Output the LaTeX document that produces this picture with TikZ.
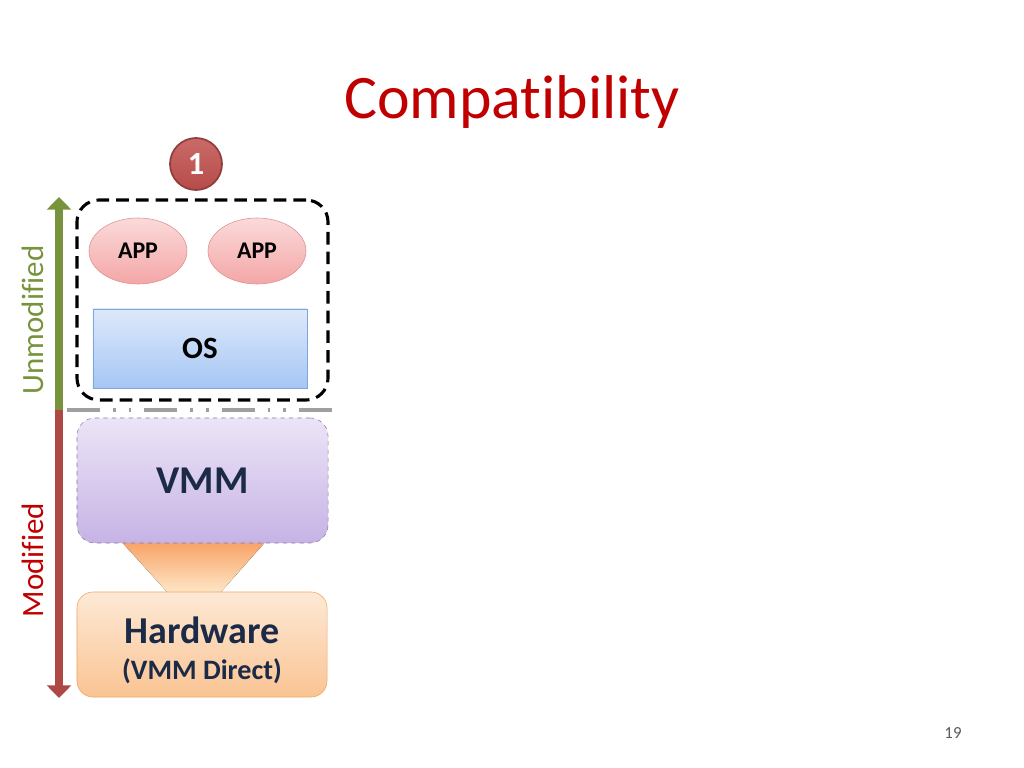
\documentclass[tikz,border=0pt]{standalone}
\usepackage{fontspec}
\setmainfont[RawFeature=-liga]{Carlito}
\usetikzlibrary{shapes}
\usetikzlibrary{positioning}
\usetikzlibrary{arrows.meta}
\definecolor{titlered}{HTML}{C00000}
\definecolor{navy}{HTML}{1B2A47}
\definecolor{leafgreen}{HTML}{77933C}
\definecolor{brick}{HTML}{C0504D}
\definecolor{apptop}{HTML}{FBDADA}
\definecolor{appbot}{HTML}{F4A6A6}
\definecolor{appline}{HTML}{DE9090}
\definecolor{ostop}{HTML}{DDE9FB}
\definecolor{osbot}{HTML}{A6C6F4}
\definecolor{osline}{HTML}{7EA6DB}
\definecolor{vmmtop}{HTML}{ECE4F7}
\definecolor{vmmbot}{HTML}{C6B3E5}
\definecolor{vmmline}{HTML}{8A78A8}
\definecolor{hwtop}{HTML}{FDE9D6}
\definecolor{hwbot}{HTML}{FAC493}
\definecolor{hwline}{HTML}{F3A560}
\definecolor{funtop}{HTML}{F8A062}
\definecolor{funbot}{HTML}{FDE7C8}
\tikzset{
    titletext/.style = {text=titlered,font=\fontsize{44}{50}\selectfont},
    stepnum/.style = {circle, line width=1.2pt, draw=brick!75!black, top color=brick!85, bottom color=brick!95!black, minimum size=1.3cm, inner sep=0pt, text=white, font=\fontsize{23}{26}\selectfont\bfseries},
    groupbox/.style = {rectangle, rounded corners=0.55cm, draw=black, line width=2.2pt, dash pattern=on 9pt off 5pt, minimum width=6.275cm, minimum height=5cm},
    appnode/.style = {ellipse, draw=appline, thin, top color=apptop, bottom color=appbot, minimum width=2.45cm, minimum height=1.65cm, inner sep=0pt, font=\fontsize{17}{20}\selectfont\bfseries},
    osbox/.style = {rectangle, draw=osline, thin, top color=ostop, bottom color=osbot, minimum width=5.35cm, minimum height=1.975cm, font=\fontsize{22}{26}\selectfont\bfseries},
    vmmbox/.style = {rectangle, rounded corners=0.45cm, draw=vmmline, thin, dashed, top color=vmmtop, bottom color=vmmbot, minimum width=6.275cm, minimum height=3.125cm, text=navy, font=\fontsize{28}{32}\selectfont\bfseries},
    hwbox/.style = {rectangle, rounded corners=0.4cm, draw=hwline, thin, top color=hwtop, bottom color=hwbot, minimum width=6.25cm, minimum height=2.625cm, text=navy, align=center, font=\fontsize{27}{30}\selectfont\bfseries},
    funnel/.style = {top color=funtop, bottom color=funbot},
    splitline/.style = {draw=gray!75, line width=2.6pt, dash pattern=on 23.4pt off 9.2pt on 2pt off 9.2pt on 2pt off 9.2pt},
    edgeup/.style = {-{Triangle[length=9pt,width=17pt]}, line width=5pt, leafgreen},
    edgedown/.style = {-{Triangle[length=9pt,width=17pt]}, line width=5pt, brick!90!black},
    sidetext/.style = {rotate=90, font=\fontsize{22}{26}\selectfont},
    pagenum/.style = {text=gray!70!black, font=\fontsize{12}{14}\selectfont}
}
\begin{document}
\begin{tikzpicture}[x=0.025cm,y=-0.025cm]
\useasboundingbox (0,0) rectangle (1024,768);
%
\node[titletext] at (512,102) (title) {Compatibility};
\node[stepnum] at (196,164) (one) {1};
%
\fill[funnel] (120,540) -- (267,540) -- (220,593) -- (168,593) -- cycle;
\node[groupbox] at (202.5,300) (guest) {};
\node[appnode] at (138,251) (app1) {APP};
\node[appnode] at (257,251) (app2) {APP};
\node[osbox] at (200,348.5) (os) {OS};
\node[vmmbox] at (202.5,480.5) (vmm) {VMM};
\node[hwbox] at (202,644.5) (hw) {\rule{0pt}{27pt}Hardware\\[-4pt]{\fontsize{20}{24}\selectfont(VMM Direct)}};
%
\coordinate (split) at (59,410);
\coordinate (splitl) at (67,410);
\coordinate (splitr) at (335,410);
\coordinate (top) at (59,197);
\coordinate (bot) at (59,698);
\draw[splitline] (splitl) -- (splitr);
\draw[edgeup] (split) -- (top);
\draw[edgedown] (split) -- (bot);
%
\node[sidetext, text=leafgreen] at (33,320) (unmod) {Unmodified};
\node[sidetext, text=titlered] at (33,560) (mod) {Modified};
\node[pagenum] at (953,733) (page) {19};
\end{tikzpicture}
\end{document}
